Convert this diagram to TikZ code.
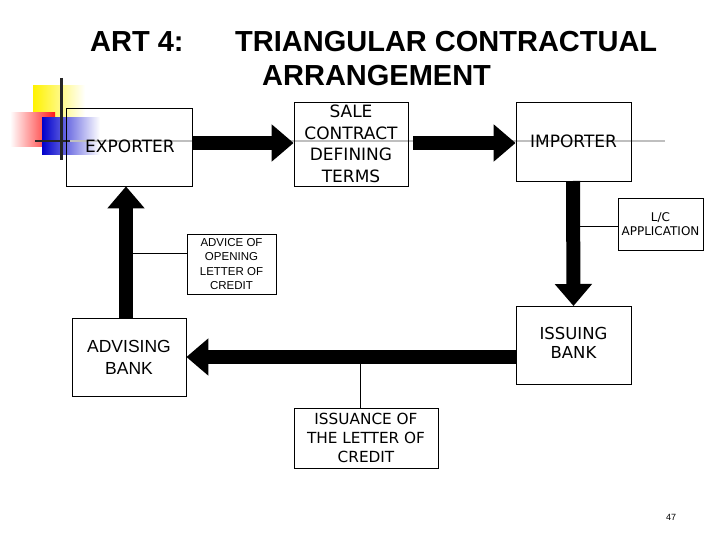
\documentclass[tikz,border=0pt]{standalone}
\usepackage{fontspec}
\setmainfont{Liberation Sans}
\newfontfamily\dv{DejaVu Sans}
\usetikzlibrary{arrows.meta}
\begin{document}
\begin{tikzpicture}[x=1pt,y=-1pt,
  bx/.style={draw,line width=0.8pt,inner sep=0pt,align=center},
  big/.style={line width=14pt,-{Triangle[width=36pt,length=22pt]},shorten >=0pt},
  thin/.style={line width=0.6pt},
  ttl/.style={font=\bfseries\fontsize{29}{32}\selectfont,anchor=base west,inner sep=0pt}]
\useasboundingbox (0,0) rectangle (720,540);
% decoration
\shade[left color=yellow!90!orange,right color=white] (33,86) rectangle (85,128);
\shade[left color=white,right color=red!90] (10,113) rectangle (55,147);
\shade[left color=blue!80!black,right color=white] (42,118) rectangle (100,155);
\draw[line width=3pt,black!85] (61,78) -- (61,160);
% gray rule (under texts)
\draw[line width=2pt,black!85] (35,141) -- (70,141);
\draw[line width=1.3pt,black!25] (70,141) -- (665,141);
% title
\node[ttl] (t1) at (90,52) {ART 4:};
\node[ttl] (t2) at (235,52) {TRIANGULAR CONTRACTUAL};
\node[ttl] (t3) at (262,86) {ARRANGEMENT};
% boxes
\node[bx,minimum width=126pt,minimum height=78pt] (exp) at (129,147) {};
\node[font=\dv\fontsize{17}{18}\selectfont] (expt) at (130,146) {EXPORTER};
\node[bx,minimum width=114pt,minimum height=84pt,font=\dv\fontsize{17}{21.5}\selectfont] (sale) at (351,144) {SALE\\CONTRACT\\DEFINING\\TERMS};
\node[bx,minimum width=115pt,minimum height=79pt,font=\dv\fontsize{17}{18}\selectfont] (imp) at (573.5,141.5) {IMPORTER};
\node[bx,minimum width=85pt,minimum height=52pt,font=\dv\fontsize{12}{14}\selectfont] (lc) at (660.5,224) {L/C\\APPLICATION};
\node[bx,minimum width=115pt,minimum height=78pt,anchor=north] (iss) at (573.5,306) {};
\node[font=\dv\fontsize{16.5}{19}\selectfont,align=center] (isst) at (573.5,343) {ISSUING\\BANK};
\node[bx,minimum width=114pt,minimum height=78pt,font=\fontsize{17.5}{22}\selectfont] (adv) at (129,357) {ADVISING\\BANK};
\node[bx,minimum width=89pt,minimum height=60pt,font=\fontsize{11.5}{14.5}\selectfont] (advc) at (231.5,264) {ADVICE OF\\OPENING\\LETTER OF\\CREDIT};
\node[bx,minimum width=144pt,minimum height=60pt,font=\dv\fontsize{15.3}{19}\selectfont] (issu) at (366,438) {ISSUANCE OF\\THE LETTER OF\\CREDIT};
\node[font=\fontsize{9}{10}\selectfont] (pg) at (671,517) {47};
% big arrows
\draw[big] (exp.east|-0,143) -- (sale.west|-0,143);
\draw[big] (413,143) -- (imp.west|-0,143);
\draw[big] (573,181) -- (iss.north);
\draw[big] (iss.west|-0,357) -- (adv.east|-0,357);
\draw[big] (126,318) -- (exp.south-|126,0);
% thin connectors
\coordinate (c1) at (580,226);
\draw[thin] (c1) -- (lc.west|-c1);
\coordinate (c2) at (133,253);
\draw[thin] (c2) -- (advc.west|-c2);
\coordinate (c3) at (360,364);
\draw[thin] (c3) -- (issu.north-|c3);
\end{tikzpicture}
\end{document}
